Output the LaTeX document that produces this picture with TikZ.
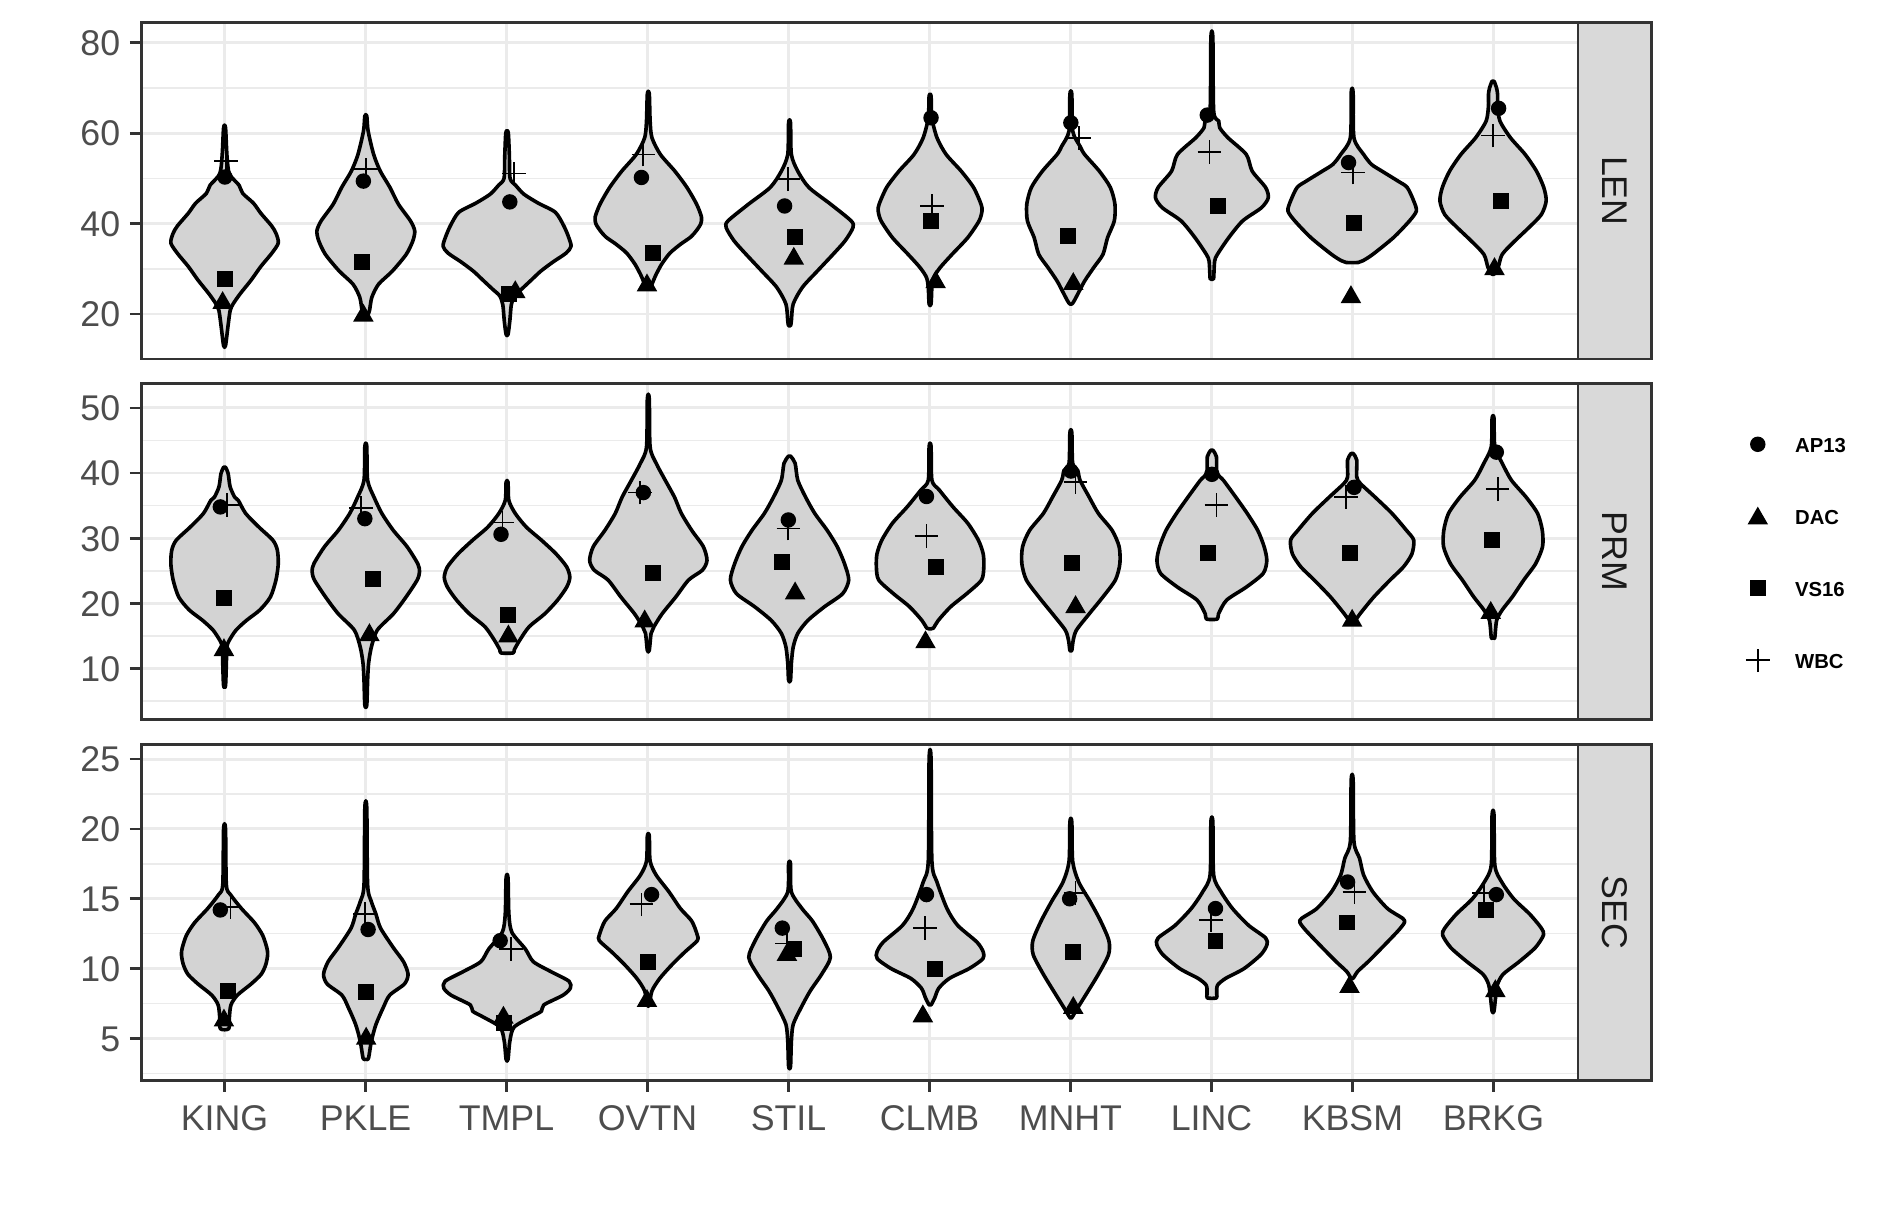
\documentclass[tikz,border=0pt]{standalone}
\usepackage{fontspec}
\setmainfont{Liberation Sans}
\definecolor{gridc}{HTML}{EBEBEB}
\definecolor{bordc}{HTML}{333333}
\definecolor{axtxt}{HTML}{4D4D4D}
\definecolor{striptxt}{HTML}{1A1A1A}
\definecolor{stripfill}{HTML}{D9D9D9}
\definecolor{violfill}{HTML}{D3D3D3}
\tikzset{
  violin/.style={draw=black, fill=violfill, line width=1.5pt, line join=round},
  gmaj/.style={draw=gridc, line width=1.2pt},
  gmin/.style={draw=gridc, line width=0.65pt},
  pborder/.style={draw=bordc, line width=1.1pt},
  axtick/.style={draw=bordc, line width=1.1pt},
  plusmark/.style={draw=black, line width=0.75pt},
  ytxt/.style={font=\fontsize{14.8}{17}\selectfont, text=axtxt, inner sep=0pt, anchor=base east},
  xtxt/.style={font=\fontsize{14.8}{17}\selectfont, text=axtxt, inner sep=0pt, anchor=base},
  striptext/.style={font=\fontsize{14.8}{17}\selectfont, text=striptxt, inner sep=0pt, anchor=center, rotate=-90},
  legtxt/.style={font=\fontsize{8.4}{10}\selectfont\bfseries, text=black, inner sep=0pt, anchor=base west}
}
\newcommand\violin[2]{%
  \gdef\vR{}\gdef\vL{}%
  \foreach \vv/\ww in {#2}{%
    \pgfmathsetmacro\yy{\pA-\pK*\vv}%
    \pgfmathsetmacro\xr{#1+\ww}%
    \pgfmathsetmacro\xl{#1-\ww}%
    \xdef\vR{\vR(\xr,\yy)}%
    \xdef\vL{(\xl,\yy)\vL}%
  }%
  \edef\vtmp{\noexpand\draw[violin] plot[smooth cycle, tension=0.45] coordinates {\vR\vL};}%
  \vtmp
}
\newcommand\dC[2]{\fill (#1,{#2}) circle[radius=3.2pt];}
\newcommand\dS[2]{\fill (#1,{#2}) ++(-3.3pt,-3.3pt) rectangle ++(6.6pt,6.6pt);}
\newcommand\dT[2]{\fill (#1,{#2}) ++(0pt,3.7pt) -- ++(-4.25pt,-7.4pt) -- ++(8.5pt,0pt) -- cycle;}
\newcommand\dP[2]{\draw[plusmark] (#1,{#2}) ++(-4.9pt,0pt) -- ++(9.8pt,0pt); \draw[plusmark] (#1,{#2}) ++(0pt,-4.9pt) -- ++(0pt,9.8pt);}
\newcommand\mC[2]{\dC{#1}{\pA-\pK*#2}}
\newcommand\mS[2]{\dS{#1}{\pA-\pK*#2}}
\newcommand\mT[2]{\dT{#1}{\pA-\pK*#2}}
\newcommand\mP[2]{\dP{#1}{\pA-\pK*#2}}
\newcommand\vgrid{\foreach \i in {0,...,9} \draw[gmaj] ({186+116.78*\i},\pT) -- ({186+116.78*\i},\pB);}
\begin{document}
\begin{tikzpicture}[x=0.5pt,y=-0.5pt]
\useasboundingbox (0,0) rectangle (1568,1009);
\fill[white] (0,0) rectangle (1568,1009);

%================ LEN =================
\def\pA{335}\def\pK{3.745}\def\pT{18.6}\def\pB{297.4}
\foreach \v in {30,50,70} \draw[gmin] (117,{\pA-\pK*\v}) -- (1307,{\pA-\pK*\v});
\foreach \v in {20,40,60,80} \draw[gmaj] (117,{\pA-\pK*\v}) -- (1307,{\pA-\pK*\v});
\vgrid
\violin{186}{61.2/0.8, 55/2, 51/4, 48.5/12, 46.7/15, 44.5/24, 42.3/30, 39.5/39, 37.8/42.7, 35.7/44.5, 33.4/39, 30.5/30, 27.5/22, 24.5/13, 22.2/7, 20.7/4.6, 17/2.7, 13/0.8}
\violin{303}{63.8/0.8, 60.5/1.9, 55.3/6.5, 51.6/12, 48/20, 44.3/27, 40.6/37, 38.4/40.5, 36.2/39, 33.2/33.5, 29.5/22, 26.6/10.6, 23.7/5, 20.7/3, 19.3/0.8}
\violin{420}{60.1/1, 55/1.9, 50/2.5, 48.5/7, 46.5/14, 44.5/26, 42.5/40, 39.5/47, 37/51, 35/53, 33.5/49, 31.5/38, 29.5/28, 27.5/20, 25.5/12, 24/6, 22/3.5, 18.5/2.3, 15.5/0.8}
\violin{537}{68.7/0.8, 62.7/1.5, 59/3, 55.3/10, 51.6/22, 48/32, 44.3/40, 41.5/44, 40/43.5, 38.5/40, 37/35, 35.5/27, 33.5/18, 31/11, 28.5/6, 26.6/3, 25.9/0.8}
\violin{654}{62.3/0.8, 55.3/1.5, 51.6/6.8, 48/16, 44.3/34, 40.6/51, 39.1/52.5, 36.2/46, 33.2/36, 29.5/23, 25.9/10.6, 22.2/3, 18.5/1.5, 17.4/0.8}
\violin{770.4}{68.2/0.8, 63.4/1.5, 59/5.7, 55.3/13.3, 51.6/25.8, 48/36, 44.3/42.2, 42.8/43, 40.6/40.6, 36.9/31.2, 33.2/18.2, 30.3/8.4, 28.1/3, 25.9/1.5, 22.2/0.8}
\violin{887}{68.6/0.8, 60.5/1.5, 57.1/7.6, 55.3/11.4, 51.6/23.6, 48/32.7, 44.3/36.5, 40.6/36, 36.9/30.4, 33.2/26.6, 30.3/19, 27.3/11.4, 24.4/5.7, 22.8/2.5, 22.2/0.8}
\violin{1003.8}{81.1/0.8, 64.9/1.5, 62.7/5.7, 61.2/6.5, 59/13.3, 55.3/28.5, 51.6/33.4, 48/44.5, 45.7/46.7, 43.5/41, 40.6/25.5, 36.9/14, 33.2/4.6, 31.7/2.3, 28/1.5, 27.7/0.8}
\violin{1120}{69/0.8, 59/1.5, 55.3/9.5, 53.1/16, 51.6/24.7, 49.4/38, 48/45.6, 45/51, 42.8/53.2, 40.6/47.5, 36.9/34.2, 33.2/17.1, 31.8/9, 31.4/5}
\violin{1236.7}{71.5/0.8, 69.9/3, 68.5/3.8, 66/3.8, 62.7/5.7, 59/14.4, 55.3/26.6, 51.6/36, 48/42, 45/44, 42/40, 39.1/29.6, 36.2/18.2, 33.2/7.6, 30.3/4.2, 28.8/0.8}
% points LEN
\mC{186.3}{50.3}\mS{186.3}{27.7}\mT{184.4}{23.1}\mP{187.1}{53.8}
\mC{301}{49.4}\mS{299.5}{31.6}\mT{301}{20.3}\mP{303}{52}
\mC{422.3}{44.8}\mS{421.9}{24.5}\mT{426.8}{25.5}\mP{425.7}{51.1}
\mC{531.3}{50.2}\mS{540.5}{33.6}\mT{535.9}{27.0}\mP{532.9}{55.3}
\mC{649.9}{43.9}\mS{658.6}{37.1}\mT{657.5}{32.9}\mP{653}{49.8}
\mC{771.2}{63.4}\mS{771}{40.6}\mT{775}{27.7}\mP{772}{43.9}
\mC{887}{62.3}\mS{884.4}{37.3}\mT{889}{27.3}\mP{894}{58.9}
\mC{1000}{64.0}\mS{1008.7}{43.8}\mP{1001.9}{55.8}
\mC{1117}{53.5}\mS{1121.6}{40.2}\mT{1119}{24.4}\mP{1120.8}{51.3}
\mC{1241.3}{65.5}\mS{1243.2}{44.9}\mT{1237.9}{30.6}\mP{1236.7}{59.5}
% frame LEN
\fill[stripfill] (1307,\pT) rectangle (1368,\pB);
\draw[pborder] (1307,\pT) rectangle (1368,\pB);
\draw[pborder] (117,\pT) rectangle (1307,\pB);
\node[striptext] (stripLEN) at (1337.5,{(\pT+\pB)/2}) {LEN};
\foreach \v in {20,40,60,80} {
  \draw[axtick] (107.5,{\pA-\pK*\v}) -- (117,{\pA-\pK*\v});
  \node[ytxt] (lenY\v) at (100,{\pA-\pK*\v+10.6}) {\v};
}

%================ PRM =================
\def\pA{607.8}\def\pK{5.4}\def\pT{317.6}\def\pB{596.2}
\foreach \v in {5,15,25,35,45} \draw[gmin] (117,{\pA-\pK*\v}) -- (1307,{\pA-\pK*\v});
\foreach \v in {10,20,30,40,50} \draw[gmaj] (117,{\pA-\pK*\v}) -- (1307,{\pA-\pK*\v});
\vgrid
\violin{186}{40.9/0.8, 39.9/3, 37.9/4.6, 36.3/8.4, 35.8/11.4, 33.8/17.5, 31.7/28.5, 29.7/40, 28.2/43.7, 26.1/44.5, 23.6/42.6, 21/38, 19/29.3, 17.4/18.2, 15.9/9.5, 14.3/3.8, 13.3/1.9, 10.8/1.5, 7.4/0.8}
\violin{303}{44.1/0.8, 38.9/1.5, 36.3/6.8, 33.8/13.3, 31.2/22.8, 28.7/34.2, 26.1/43, 24.9/44.5, 23.6/42.6, 21/33.4, 18.4/22.8, 15.9/9.5, 13.3/4.6, 10.8/2.3, 8.2/1.5, 4.4/0.8}
\violin{420}{38.6/0.8, 35.8/1.5, 33.8/6.8, 31.7/16, 29.7/28.5, 27.6/40.6, 25.6/49.4, 24/52, 22.5/49.4, 20.5/41.8, 18.4/31.2, 16.4/18.2, 14.3/10.3, 12.9/6, 12.4/5}
\violin{537}{51.4/0.8, 44/1.5, 41.5/6.5, 38.9/14, 36.3/21.7, 33.8/27.4, 31.2/36, 28.7/45.6, 26.6/48.6, 25.1/44.8, 23.6/33.4, 21/22.8, 18.4/11.4, 16.4/4.6, 15.4/2.3, 12.8/0.8}
\violin{654}{42.6/0.8, 41.5/4.6, 38.9/6.8, 36.3/13.3, 33.8/20.9, 31.2/31.2, 28.7/39.5, 26.1/45.5, 23.6/49, 21.5/44, 19.5/29, 17.4/15.2, 15.4/6.8, 13.3/3, 10.8/1.5, 8.2/0.8}
\violin{770.4}{44.1/0.8, 38.9/1.5, 37.4/7.6, 34.8/19, 32.3/31.2, 29.7/40, 27.6/44, 25.6/44.5, 23.6/42.6, 21.5/30.4, 19.5/17.1, 17.4/6.8, 16.2/2.7, 16.1/0.8}
\violin{887}{46.2/0.8, 41.5/1.5, 40.4/5.7, 38.9/7.6, 36.3/15.2, 33.8/22.8, 31.2/34.2, 28.7/40, 26.1/40.6, 23.6/36.9, 21/26.6, 18.4/15.2, 15.9/4.6, 14.3/1.9, 12.8/0.8}
\violin{1003.8}{43.5/0.8, 42.5/3.8, 40/4.2, 38.9/9.5, 36.3/19.8, 33.8/29.3, 31.2/38, 28.7/43.3, 26.6/45.5, 24.6/42.5, 22.5/28.5, 20.5/12.2, 18.4/5.5, 17.6/4.5}
\violin{1120}{43/0.8, 42/3.8, 39.4/3.8, 38.4/6.8, 36.3/19, 33.8/33, 31.2/45, 29.7/51, 27.6/49.5, 25.6/42.5, 23.6/31.5, 21/18, 18.4/6.5, 16.9/0.8}
\violin{1236.7}{48.4/0.8, 44/1.5, 41.5/7.6, 38.9/15.2, 36.3/27.4, 33.8/36.9, 31.2/40.8, 28.7/41, 26.1/35.3, 23.6/25.5, 21/16, 19/7.6, 17.4/3, 14.8/1.5, 14.7/0.8}
% points PRM
\mC{182.5}{34.8}\mS{185.2}{20.9}\mT{185.5}{13.3}\mP{188.2}{35.1}
\mC{302.2}{33}\mS{308.7}{23.7}\mT{306}{15.6}\mP{299.2}{34.6}
\mC{415}{30.6}\mS{421.1}{18.2}\mT{421.1}{15.4}\mP{416.2}{32.4}
\mC{532.9}{37}\mS{540.5}{24.6}\mT{534}{17.7}\mP{530.2}{37}
\mC{653}{32.8}\mS{648}{26.4}\mT{658.6}{22}\mP{653}{31.5}
\mC{767.4}{36.4}\mS{775}{25.6}\mT{766.6}{14.5}\mP{767.4}{30.3}
\mC{887.1}{40.3}\mS{888.2}{26.2}\mT{890.9}{19.9}\mP{890.9}{38.6}
\mC{1003.8}{39.8}\mS{1000.3}{27.8}\mP{1007.6}{35.1}
\mC{1121.6}{37.8}\mS{1118.1}{27.8}\mT{1120}{17.8}\mP{1115.1}{36.3}
\mC{1239.4}{43.2}\mS{1235.6}{29.7}\mT{1234.8}{19}\mP{1240.5}{37.5}
% frame PRM
\fill[stripfill] (1307,\pT) rectangle (1368,\pB);
\draw[pborder] (1307,\pT) rectangle (1368,\pB);
\draw[pborder] (117,\pT) rectangle (1307,\pB);
\node[striptext] (stripPRM) at (1337.5,{(\pT+\pB)/2}) {PRM};
\foreach \v in {10,20,30,40,50} {
  \draw[axtick] (107.5,{\pA-\pK*\v}) -- (117,{\pA-\pK*\v});
  \node[ytxt] (prmY\v) at (100,{\pA-\pK*\v+10.6}) {\v};
}

%================ SEC =================
\def\pA{918}\def\pK{11.57}\def\pT{616.4}\def\pB{895}
\foreach \v in {2.5,7.5,12.5,17.5,22.5} \draw[gmin] (117,{\pA-\pK*\v}) -- (1307,{\pA-\pK*\v});
\foreach \v in {5,10,15,20,25} \draw[gmaj] (117,{\pA-\pK*\v}) -- (1307,{\pA-\pK*\v});
\vgrid
\violin{186}{20/0.8, 16/1.5, 15.3/4.9, 14.3/14, 13.3/24.7, 12.4/31.5, 11.5/35, 11/35.7, 10.3/34.2, 9.6/30.4, 8.9/22, 8.1/10.6, 7.4/5.3, 6.5/4, 5.7/3.5}
\violin{303}{21.5/0.8, 16/1.5, 14.8/4.6, 13.9/8.4, 12.9/12.2, 11.5/22.8, 10.5/31.2, 9.6/35, 8.9/32, 8.1/19.8, 7.2/14.4, 6/8.4, 4.8/4.6, 3.6/2.3, 3.5/0.8}
\violin{420}{16.5/0.8, 13.9/1.5, 12.6/4, 11.4/15.2, 10.5/21.7, 9.8/36, 9.1/51.3, 8.6/52.4, 8.1/46.4, 7.4/30.4, 6.95/28.5, 6.5/19, 5.8/5.7, 4.8/2.3, 3.5/0.8}
\violin{537}{19.5/0.8, 17.7/1.5, 16.7/6.5, 15.5/17.1, 14.3/26.6, 13.4/36, 12.4/40.6, 12/40.6, 11.2/30.4, 10.3/19.8, 9.3/9.5, 8.4/3, 7.4/0.8}
\violin{654}{17.5/0.8, 15.5/1.5, 14.3/10.3, 13.4/19, 12/28.5, 10.8/33.8, 9.6/26.6, 8.4/17.1, 7.2/9.5, 6/3, 4.8/1.5, 3/0.8}
\violin{770.4}{25/0.8, 17.7/1.5, 16.2/5.7, 14.3/14, 13.1/22.8, 11.9/38.8, 11.2/44, 10.7/43.7, 10/32.3, 9.3/16, 8.6/7.2, 7.9/3.8, 7.4/0.8}
\violin{887}{20.5/0.8, 17.7/1.5, 16.2/6.5, 14.8/16, 13.4/24.7, 12/31.5, 11/31.2, 9.6/22.8, 8.1/12.2, 7.2/5.7, 6.5/0.8}
\violin{1003.8}{20.5/0.8, 16.7/1.5, 15.5/7.6, 14.3/17.1, 13.1/30.4, 12.2/44.5, 11.7/45.6, 11/40.6, 10/26.6, 9.3/11.4, 8.8/4.6, 8.2/4, 7.9/3.8}
\violin{1120}{23.5/0.8, 19.1/1.5, 17.9/6.1, 16.7/9.5, 15.5/17.1, 14.3/29.3, 13.6/41.8, 13.3/43.3, 12.7/38, 11.5/24.7, 10.5/13.3, 9.8/4.6, 9.3/0.8}
\violin{1236.7}{21/0.8, 17.4/1.5, 16.2/7.2, 15/17.1, 13.9/30.4, 12.9/40, 12.4/41.8, 11.5/35, 10.5/21.7, 9.6/8.4, 8.9/3.8, 8.1/2.3, 6.95/0.8}
% points SEC
\mC{182.5}{14.2}\mS{189}{8.4}\mT{185.5}{6.5}\mP{190.9}{14.4}
\mC{304.9}{12.8}\mS{303.3}{8.3}\mT{303.3}{5.2}\mP{302.2}{13.9}
\mC{414.3}{12}\mS{417.3}{6.1}\mT{417}{6.7}\mP{423}{11.4}
\mC{539.7}{15.3}\mS{537}{10.5}\mT{535.9}{7.9}\mP{531.3}{14.6}
\mC{648}{12.9}\mS{657.5}{11.4}\mT{651.8}{11.2}\mP{651.8}{11.8}
\mC{767.4}{15.3}\mS{774.2}{10}\mT{764.4}{6.8}\mP{766.3}{12.9}
\mC{886}{15}\mS{889}{11.2}\mT{889}{7.4}\mP{890.9}{15.4}
\mC{1006.8}{14.3}\mS{1006.8}{12}\mP{1003}{13.5}
\mC{1116.2}{16.2}\mS{1115.9}{13.3}\mT{1117.8}{8.9}\mP{1122}{15.5}
\mC{1239.4}{15.3}\mS{1231}{14.2}\mT{1238.6}{8.6}\mP{1229}{15.4}
% frame SEC
\fill[stripfill] (1307,\pT) rectangle (1368,\pB);
\draw[pborder] (1307,\pT) rectangle (1368,\pB);
\draw[pborder] (117,\pT) rectangle (1307,\pB);
\node[striptext] (stripSEC) at (1337.5,{(\pT+\pB)/2}) {SEC};
\foreach \v in {5,10,15,20,25} {
  \draw[axtick] (107.5,{\pA-\pK*\v}) -- (117,{\pA-\pK*\v});
  \node[ytxt] (secY\v) at (100,{\pA-\pK*\v+10.6}) {\v};
}

%================ x axis =================
\foreach \lab [count=\i from 0] in {KING,PKLE,TMPL,OVTN,STIL,CLMB,MNHT,LINC,KBSM,BRKG} {
  \draw[axtick] ({186+116.78*\i},895) -- ({186+116.78*\i},904.5);
  \node[xtxt] (xl\lab) at ({186+116.78*\i},936) {\lab};
}

%================ legend =================
\dC{1456}{368}
\dT{1456}{427}
\dS{1456}{487}
\dP{1456}{547}
\node[legtxt] (legAP) at (1486.5,374.8) {AP13};
\node[legtxt] (legDAC) at (1486.5,434.5) {DAC};
\node[legtxt] (legVS) at (1486.5,494) {VS16};
\node[legtxt] (legWBC) at (1486.5,553.6) {WBC};
\end{tikzpicture}
\end{document}
